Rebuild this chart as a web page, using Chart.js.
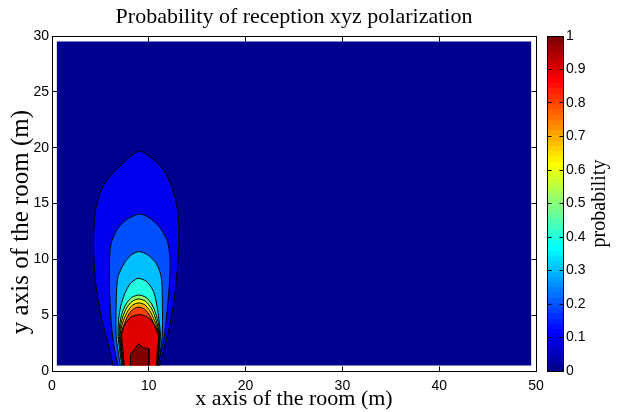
<!DOCTYPE html>
<html>
<head>
<meta charset="utf-8">
<script src="https://cdn.jsdelivr.net/npm/chart.js@4.4.0/dist/chart.umd.min.js"></script>
<style>
  html, body { margin: 0; padding: 0; background: #fff; }
  #wrap { position: relative; width: 623px; height: 412px; }
  #wrap canvas { position: absolute; left: 0; top: 0; }
</style>
</head>
<body>
<div id="wrap">
  <canvas id="contour" width="623" height="412" style="width:623px;height:412px"></canvas>
  <canvas id="colorbar" width="623" height="412" style="width:623px;height:412px"></canvas>
</div>
<script>
// room grid extent (m)
const roomX = [0.5, 49.5];
const roomY = [0.5, 29.5];

// contour levels and the closed outlines, [x, y] in metres
const levels = [0.1, 0.2, 0.3, 0.4, 0.5, 0.6, 0.7, 0.8, 0.9, 1.0];
const contourPaths = [
  [[6.3,0.5],[5.77,2.48],[5.08,4.86],[4.56,7.55],[4.32,10.2],[4.32,12.6],[4.56,14.7],[5.08,16.2],[5.94,17.4],[7.32,18.6],[8.97,19.7],[10.07,19.2],[11.28,18.3],[12.31,16.65],[12.9,14.7],[13.1,12.6],[13.0,9.64],[12.65,6.66],[12.14,3.97],[11.45,1.58],[11.15,0.5]],
  [[6.8,0.5],[6.35,2.5],[6.1,4.5],[5.95,7],[5.94,9.5],[6.05,11.2],[6.6,12.5],[7.6,13.5],[8.97,14.05],[9.9,13.8],[11.0,13.0],[11.9,11.7],[12.2,10],[12.1,7.5],[11.85,5],[11.6,3.1],[11.2,1.5],[11.05,0.5]],
  [[7.05,0.5],[6.63,3.1],[6.63,6.0],[6.8,8.4],[7.5,9.7],[8.2,10.4],[8.97,10.7],[9.9,10.4],[10.76,9.64],[11.28,8.45],[11.4,6.0],[11.38,3.1],[10.98,0.5]],
  [[7.2,0.5],[6.84,3.1],[6.88,4.6],[7.1,5.8],[7.5,6.9],[8.1,7.85],[8.9,8.3],[9.8,8.0],[10.5,7.1],[10.85,5.8],[11.05,4.6],[11.2,3.1],[10.93,0.5]],
  [[7.28,0.5],[6.94,3.1],[7.0,4.2],[7.25,5.2],[7.65,6.0],[8.25,6.6],[8.97,6.8],[9.7,6.6],[10.3,6.0],[10.7,5.2],[11.0,4.2],[11.14,3.1],[10.9,0.5]],
  [[7.33,0.5],[7.0,3.1],[7.08,4.0],[7.35,4.95],[7.75,5.7],[8.3,6.25],[8.97,6.45],[9.65,6.25],[10.2,5.7],[10.6,4.95],[10.93,4.0],[11.1,3.1],[10.87,0.5]],
  [[7.38,0.5],[7.05,3.1],[7.15,3.85],[7.45,4.7],[7.85,5.4],[8.35,5.92],[8.97,6.1],[9.6,5.92],[10.1,5.4],[10.5,4.7],[10.88,3.85],[11.07,3.1],[10.84,0.5]],
  [[7.42,0.5],[7.12,3.1],[7.25,3.7],[7.55,4.4],[7.95,5.1],[8.4,5.55],[8.97,5.72],[9.55,5.55],[10.0,5.1],[10.45,4.4],[10.85,3.7],[11.05,3.1],[10.81,0.5]],
  [[7.46,0.5],[7.35,1.8],[7.2,3.1],[7.35,3.8],[7.7,4.4],[8.2,4.85],[9.0,5.05],[9.7,4.9],[10.3,4.5],[10.7,3.8],[11.0,3.1],[10.9,2.0],[10.78,0.5]],
  [[8.1,0.5],[8.1,1.45],[8.97,2.45],[9.35,2.1],[10.0,2.0],[10.0,0.5]]
];

// tick labels
const xTickValues = [0, 10, 20, 30, 40, 50];
const yTickValues = [0, 5, 10, 15, 20, 25, 30];
const cbTickValues = [0, 0.1, 0.2, 0.3, 0.4, 0.5, 0.6, 0.7, 0.8, 0.9, 1];

// matlab jet(64)
function jetU(k) {
  if (k < 1 || k > 47) return 0;
  if (k <= 16) return k / 16;
  if (k <= 31) return 1;
  return (48 - k) / 16;
}
function jetRow(i) {
  const r = Math.round(jetU(i - 24) * 255);
  const g = Math.round(jetU(i - 8) * 255);
  const b = Math.round(jetU(i + 8) * 255);
  return `rgb(${r},${g},${b})`;
}
function jet(v) {
  return jetRow(Math.min(64, Math.floor(v * 64 + 1e-9) + 1));
}

const serif = '"Liberation Serif", "Times New Roman", serif';
const sans = '"Liberation Sans", Arial, sans-serif';

const datasets = [{
  data: [
    {x: roomX[0], y: roomY[0]}, {x: roomX[0], y: roomY[1]},
    {x: roomX[1], y: roomY[1]}, {x: roomX[1], y: roomY[0]}
  ],
  showLine: true,
  fill: 'shape',
  backgroundColor: jet(0),
  borderColor: 'rgba(0,0,0,0)',
  borderWidth: 0,
  pointRadius: 0,
  order: 100
}];
levels.forEach((lv, i) => {
  datasets.push({
    data: contourPaths[i].map(p => ({x: p[0], y: p[1]})),
    showLine: true,
    fill: 'shape',
    backgroundColor: jet(lv),
    borderColor: '#000',
    borderWidth: 1,
    pointRadius: 0,
    tension: lv >= 1 ? 0 : 0.25,
    order: 50 - i
  });
});

function tickSetter(values) {
  return scale => { scale.ticks = values.map(v => ({value: v})); };
}

const framePlugin = {
  id: 'frame',
  afterDraw(chart) {
    const {ctx, chartArea: a, scales} = chart;
    const L = Math.floor(a.left) + 0.5, R = Math.floor(a.right) + 0.5;
    const T = Math.floor(a.top) + 0.5, B = Math.floor(a.bottom) + 0.5;
    ctx.save();
    ctx.strokeStyle = '#000';
    ctx.lineWidth = 1;
    ctx.strokeRect(L, T, R - L, B - T);
    ctx.beginPath();
    scales.x.ticks.forEach(t => {
      const px = Math.floor(scales.x.getPixelForValue(t.value)) + 0.5;
      ctx.moveTo(px, B); ctx.lineTo(px, B - 5);
      ctx.moveTo(px, T); ctx.lineTo(px, T + 5);
    });
    scales.y.ticks.forEach(t => {
      const py = Math.floor(scales.y.getPixelForValue(t.value)) + 0.5;
      ctx.moveTo(L, py); ctx.lineTo(L + 5, py);
      ctx.moveTo(R, py); ctx.lineTo(R - 5, py);
    });
    ctx.stroke();
    // y axis label, sitting a little below the axis middle as in the original
    ctx.translate(21, 222);
    ctx.rotate(-Math.PI / 2);
    ctx.fillStyle = '#000';
    ctx.font = `25px ${serif}`;
    ctx.textAlign = 'center';
    ctx.textBaseline = 'middle';
    ctx.fillText('y axis of the room (m)', 0, 0);
    ctx.restore();
  }
};

new Chart(document.getElementById('contour'), {
  type: 'scatter',
  data: { datasets },
  options: {
    responsive: false,
    animation: false,
    events: [],
    layout: { padding: { left: 0, right: 87, top: 0, bottom: 0 } },
    plugins: {
      legend: { display: false },
      tooltip: { enabled: false },
      title: {
        display: true,
        fullSize: false,
        text: 'Probability of reception xyz polarization',
        color: '#000',
        font: { family: serif, size: 22, weight: 'normal' },
        padding: { top: 4, bottom: 5.6 }
      }
    },
    scales: {
      x: {
        type: 'linear', min: 0, max: 50,
        afterBuildTicks: tickSetter(xTickValues),
        afterFit: s => { s.height = 41; },
        grid: { display: false, drawTicks: false },
        border: { display: false },
        ticks: { color: '#000', padding: 7, font: { family: sans, size: 14 } },
        title: {
          display: true, text: 'x axis of the room (m)', color: '#000',
          font: { family: serif, size: 22 }, padding: { top: 0, bottom: 0 }
        }
      },
      y: {
        type: 'linear', min: 0, max: 30,
        afterBuildTicks: tickSetter(yTickValues),
        afterFit: s => { s.width = 52; },
        grid: { display: false, drawTicks: false },
        border: { display: false },
        ticks: { color: '#000', padding: 3, font: { family: sans, size: 14 } }
      }
    }
  },
  plugins: [framePlugin]
});

const colorbarPlugin = {
  id: 'cbframe',
  afterDraw(chart) {
    const {ctx, chartArea: a, scales} = chart;
    const L = Math.floor(a.left) + 0.5, R = Math.floor(a.right) + 0.5;
    const T = Math.floor(a.top) + 0.5, B = Math.floor(a.bottom) + 0.5;
    ctx.save();
    ctx.strokeStyle = '#000';
    ctx.lineWidth = 1;
    ctx.strokeRect(L, T, R - L, B - T);
    ctx.beginPath();
    scales.y.ticks.forEach(t => {
      const py = Math.floor(scales.y.getPixelForValue(t.value)) + 0.5;
      ctx.moveTo(L, py); ctx.lineTo(L + 4, py);
      ctx.moveTo(R, py); ctx.lineTo(R - 4, py);
    });
    ctx.stroke();
    ctx.translate(600, (a.top + a.bottom) / 2);
    ctx.rotate(-Math.PI / 2);
    ctx.fillStyle = '#000';
    ctx.font = `20px ${serif}`;
    ctx.textAlign = 'center';
    ctx.textBaseline = 'middle';
    ctx.fillText('probability', 0, 0);
    ctx.restore();
  }
};

new Chart(document.getElementById('colorbar'), {
  type: 'bar',
  data: {
    labels: ['probability'],
    datasets: [{
      data: [[cbTickValues[0], cbTickValues[cbTickValues.length - 1]]],
      backgroundColor(c) {
        const a = c.chart.chartArea;
        if (!a) return jetRow(32);
        const g = c.chart.ctx.createLinearGradient(0, a.bottom, 0, a.top);
        for (let i = 0; i < 64; i++) {
          g.addColorStop(i / 64, jetRow(i + 1));
          g.addColorStop((i + 1) / 64, jetRow(i + 1));
        }
        return g;
      },
      borderWidth: 0,
      barPercentage: 1,
      categoryPercentage: 1
    }]
  },
  options: {
    responsive: false,
    animation: false,
    events: [],
    layout: { padding: { left: 547, right: 0, top: 36, bottom: 41 } },
    plugins: { legend: { display: false }, tooltip: { enabled: false } },
    scales: {
      x: { display: false },
      y: {
        position: 'right', min: 0, max: 1,
        afterBuildTicks: tickSetter(cbTickValues),
        afterFit: s => { s.width = 60; },
        grid: { display: false, drawTicks: false },
        border: { display: false },
        ticks: {
          color: '#000', padding: 3, font: { family: sans, size: 14 },
          callback: v => String(+Number(v).toFixed(2))
        }
      }
    }
  },
  plugins: [colorbarPlugin]
});
</script>
</body>
</html>
